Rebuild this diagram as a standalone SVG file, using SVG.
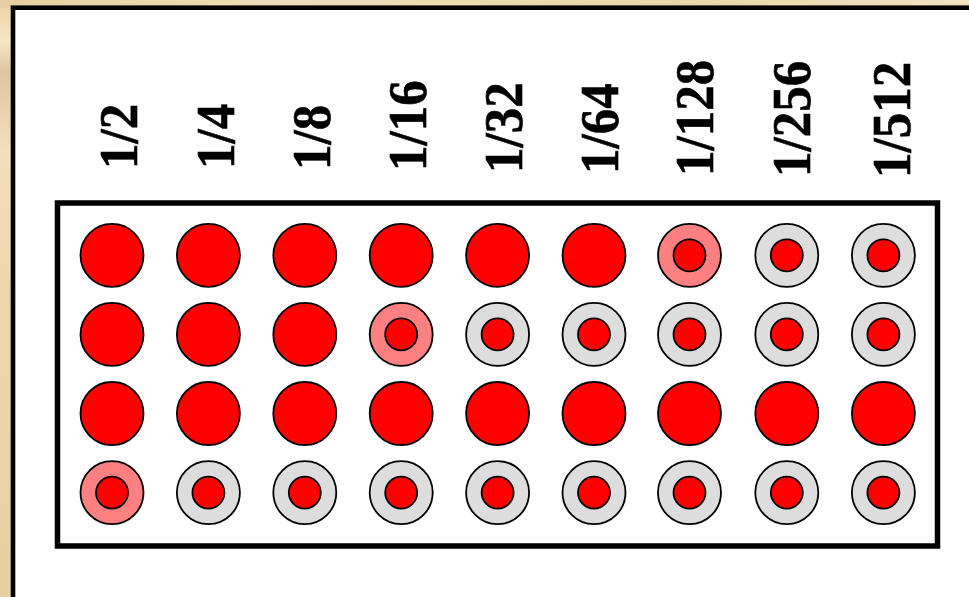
<svg xmlns="http://www.w3.org/2000/svg" xmlns:xlink="http://www.w3.org/1999/xlink" width="969" height="597" viewBox="0 0 969 597">
<defs>
<linearGradient id="bgv" x1="0" y1="0" x2="0" y2="1">
<stop offset="0" stop-color="#ead3a6"/>
<stop offset="0.07" stop-color="#f6e6c4"/>
<stop offset="0.12" stop-color="#dcc6a0"/>
<stop offset="0.25" stop-color="#f2e0bb"/>
<stop offset="0.5" stop-color="#ecd6ad"/>
<stop offset="0.75" stop-color="#e9d3aa"/>
<stop offset="1" stop-color="#e6cfa2"/>
</linearGradient>
<linearGradient id="bgh" x1="0" y1="0" x2="1" y2="0">
<stop offset="0" stop-color="#e6cfa2"/>
<stop offset="0.3" stop-color="#f0ddb8"/>
<stop offset="0.7" stop-color="#ead5ab"/>
<stop offset="1" stop-color="#f3e2c0"/>
</linearGradient>
<style>
.full{fill:#ff0000;stroke:#000;stroke-width:1.8}
.pink{fill:#ff8080;stroke:#000;stroke-width:1.8}
.grey{fill:#dddddd;stroke:#000;stroke-width:1.8}
.inner{fill:#ff0000;stroke:#000;stroke-width:1.8}
.lbl{font-family:"Liberation Serif","Times New Roman",serif;font-weight:bold;font-size:51px;fill:#000;stroke:#000;stroke-width:0.6}
</style>
<g id="F"><circle r="31.5" class="full"/></g>
<g id="P"><circle r="31.5" class="pink"/><circle r="16" class="inner"/></g>
<g id="G"><circle r="31.5" class="grey"/><circle r="16" class="inner"/></g>
</defs>
<rect x="0" y="0" width="969" height="597" fill="url(#bgv)"/>
<rect x="0" y="0" width="969" height="8" fill="url(#bgh)"/>
<rect id="panel" x="13" y="7.7" width="980" height="620" fill="#ffffff" stroke="#000" stroke-width="4.6"/>
<g id="labels">
<text class="lbl" transform="translate(137,169) rotate(-90) scale(1,1.08)">1/2</text>
<text class="lbl" transform="translate(234,169) rotate(-90) scale(1,1.08)">1/4</text>
<text class="lbl" transform="translate(330,170) rotate(-90) scale(1,1.08)">1/8</text>
<text class="lbl" transform="translate(426,171) rotate(-90) scale(1,1.08)">1/16</text>
<text class="lbl" transform="translate(522,173) rotate(-90) scale(1,1.08)">1/32</text>
<text class="lbl" transform="translate(618,174) rotate(-90) scale(1,1.08)">1/64</text>
<text class="lbl" transform="translate(713,176) rotate(-90) scale(1,1.08)">1/128</text>
<text class="lbl" transform="translate(810,177) rotate(-90) scale(1,1.08)">1/256</text>
<text class="lbl" transform="translate(910,178) rotate(-90) scale(1,1.08)">1/512</text>
</g>
<rect id="board" x="57.5" y="203" width="880" height="343" fill="#ffffff" stroke="#000" stroke-width="5.5"/>
<g id="row1">
<use xlink:href="#F" x="112" y="255.3"/>
<use xlink:href="#F" x="208.4" y="255.3"/>
<use xlink:href="#F" x="304.8" y="255.3"/>
<use xlink:href="#F" x="401.2" y="255.3"/>
<use xlink:href="#F" x="497.6" y="255.3"/>
<use xlink:href="#F" x="594" y="255.3"/>
<use xlink:href="#P" x="689.5" y="255.3"/>
<use xlink:href="#G" x="786.8" y="255.3"/>
<use xlink:href="#G" x="883.4" y="255.3"/>
</g>
<g id="row2">
<use xlink:href="#F" x="112" y="334.4"/>
<use xlink:href="#F" x="208.4" y="334.4"/>
<use xlink:href="#F" x="304.8" y="334.4"/>
<use xlink:href="#P" x="401.2" y="334.4"/>
<use xlink:href="#G" x="497.6" y="334.4"/>
<use xlink:href="#G" x="594" y="334.4"/>
<use xlink:href="#G" x="689.5" y="334.4"/>
<use xlink:href="#G" x="786.8" y="334.4"/>
<use xlink:href="#G" x="883.4" y="334.4"/>
</g>
<g id="row3">
<use xlink:href="#F" x="112" y="413.5"/>
<use xlink:href="#F" x="208.4" y="413.5"/>
<use xlink:href="#F" x="304.8" y="413.5"/>
<use xlink:href="#F" x="401.2" y="413.5"/>
<use xlink:href="#F" x="497.6" y="413.5"/>
<use xlink:href="#F" x="594" y="413.5"/>
<use xlink:href="#F" x="689.5" y="413.5"/>
<use xlink:href="#F" x="786.8" y="413.5"/>
<use xlink:href="#F" x="883.4" y="413.5"/>
</g>
<g id="row4">
<use xlink:href="#P" x="112" y="492.6"/>
<use xlink:href="#G" x="208.4" y="492.6"/>
<use xlink:href="#G" x="304.8" y="492.6"/>
<use xlink:href="#G" x="401.2" y="492.6"/>
<use xlink:href="#G" x="497.6" y="492.6"/>
<use xlink:href="#G" x="594" y="492.6"/>
<use xlink:href="#G" x="689.5" y="492.6"/>
<use xlink:href="#G" x="786.8" y="492.6"/>
<use xlink:href="#G" x="883.4" y="492.6"/>
</g>
<g id="connectors"/>
</svg>
